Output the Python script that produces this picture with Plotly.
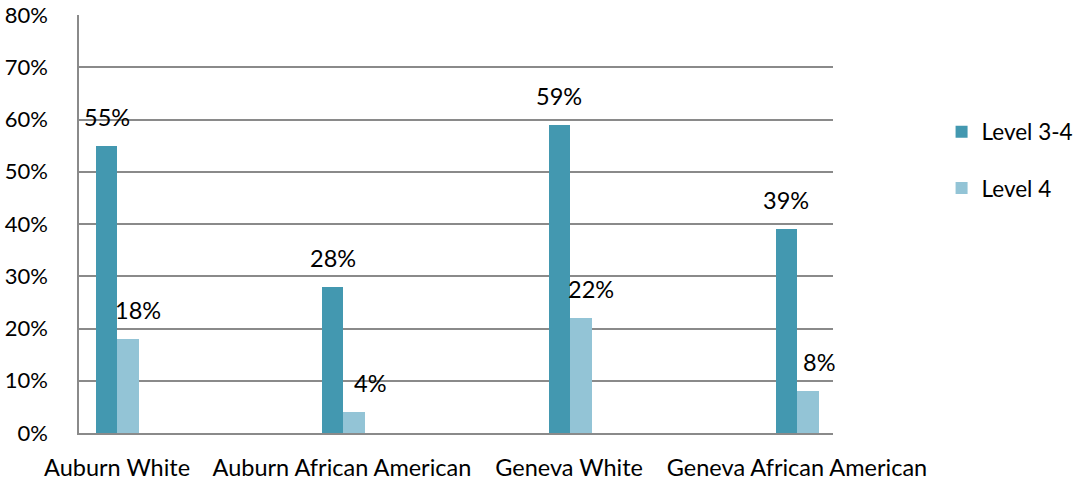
import plotly.graph_objects as go

# Share of students at each proficiency level, by district and group
categories = ["Auburn White", "Auburn African American", "Geneva White", "Geneva African American"]
level_34 = [0.55, 0.28, 0.59, 0.39]
level_4 = [0.18, 0.04, 0.22, 0.08]
y_tick_values = [0, 0.1, 0.2, 0.3, 0.4, 0.5, 0.6, 0.7, 0.8]

# Layout/styling constants
DARK = "#4398B0"
LIGHT = "#93C4D6"
GRID = "#8a8a8a"
FONT = "Lato"
FONT_SIZE = 23.5
bar_offsets = [-0.411, -0.211, -0.008, 0.196]   # left edge of each pair, in category units
bar_width = 0.114
label_centres = [-0.298, 0.895, 2.10, 3.309]    # category caption anchors
light_label_shift = [10, 16, 10, 11]

x = list(range(len(categories)))

fig = go.Figure()
fig.add_trace(go.Bar(
    name="Level 3-4", x=x, y=level_34,
    offset=bar_offsets, width=bar_width,
    marker=dict(color=DARK, line=dict(width=0)),
    legendgroup="a",
))
fig.add_trace(go.Bar(
    name="Level 4", x=x, y=level_4,
    offset=[o + bar_width for o in bar_offsets], width=bar_width,
    marker=dict(color=LIGHT, line=dict(width=0)),
    legendgroup="b",
))

# Value labels above each bar
for i, v in enumerate(level_34):
    fig.add_annotation(x=i + bar_offsets[i] + bar_width / 2, y=v, text=f"{round(v * 100)}%",
                       showarrow=False, yshift=29, xref="x", yref="y",
                       font=dict(family=FONT, size=FONT_SIZE, color="#000"))
for i, v in enumerate(level_4):
    fig.add_annotation(x=i + bar_offsets[i] + 1.5 * bar_width, y=v, text=f"{round(v * 100)}%",
                       showarrow=False, yshift=29, xshift=light_label_shift[i], xref="x", yref="y",
                       font=dict(family=FONT, size=FONT_SIZE, color="#000"))

fig.update_layout(
    width=1081, height=482,
    margin=dict(l=79, r=248, t=15, b=49, autoexpand=False),
    paper_bgcolor="white", plot_bgcolor="white",
    font=dict(family=FONT, size=FONT_SIZE, color="#000"),
    showlegend=True,
    legend=dict(x=1.144, xanchor="left", y=0.653, yanchor="middle",
                traceorder="grouped", tracegroupgap=24, itemwidth=30,
                font=dict(family=FONT, size=FONT_SIZE - 1, color="#000")),
    bargap=0,
)
fig.update_xaxes(
    range=[-0.5, 3.5], tickmode="array", tickvals=label_centres, ticktext=categories,
    tickangle=0, showgrid=False, zeroline=False, automargin=False,
    showline=True, linecolor=GRID, linewidth=1.5,
    ticks="", ticklabelstandoff=13,
)
fig.update_yaxes(
    range=[0, 0.8], tickmode="array", tickvals=y_tick_values, tickformat=".0%",
    tickfont=dict(family=FONT, size=22, color="#000"),
    showgrid=True, gridcolor=GRID, gridwidth=1.5, zeroline=False, automargin=False,
    showline=True, linecolor=GRID, linewidth=1.5,
    ticks="", ticklabelstandoff=25,
)

fig.write_html("out.html")
